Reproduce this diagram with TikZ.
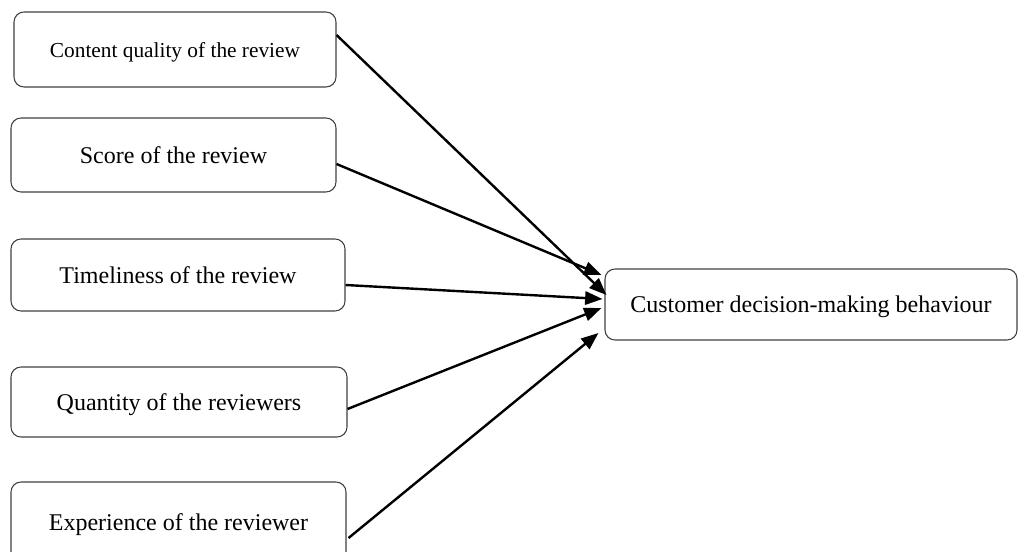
\documentclass[tikz,border=0pt]{standalone}
\usepackage{fontspec}
\setmainfont{Liberation Serif}
\usetikzlibrary{arrows.meta}
\begin{document}
\begin{tikzpicture}[x=0.75pt,y=-0.75pt,
  factor/.style={draw=black!75, line width=0.8pt, rounded corners=7.5pt, inner sep=0pt,
    font=\fontsize{18}{21}\selectfont, text depth=0pt, align=center},
  arr/.style={line width=1.8pt, -{Triangle[length=13pt,width=10pt]}}]
\clip (0,0) rectangle (1024,552);
\node[factor, minimum width=322*0.75pt, minimum height=75*0.75pt, font=\fontsize{16}{19}\selectfont] (b1) at (175,49.5) {Content quality of the review};
\node[factor, minimum width=325*0.75pt, minimum height=74*0.75pt] (b2) at (173.5,155) {Score of the review};
\node[factor, minimum width=334*0.75pt, minimum height=72*0.75pt] (b3) at (178,275) {Timeliness of the review};
\node[factor, minimum width=336*0.75pt, minimum height=70*0.75pt] (b4) at (179,402) {Quantity of the reviewers};
\node[factor, minimum width=335*0.75pt, minimum height=80*0.75pt] (b5) at (178.5,522) {Experience of the reviewer};
\node[factor, minimum width=412*0.75pt, minimum height=71*0.75pt] (t) at (811,304.5) {Customer decision-making behaviour};
\draw[arr] ([shift={(0,-14.5)}]b1.east) -- ([shift={(2,-9.5)}]t.west);
\draw[arr] ([shift={(0,9)}]b2.east) -- ([shift={(-3,-29.5)}]t.west);
\draw[arr] ([shift={(0,10)}]b3.east) -- ([shift={(-2,-5.5)}]t.west);
\draw[arr] ([shift={(0,7)}]b4.east) -- ([shift={(-3,3.5)}]t.west);
\draw[arr] ([shift={(2,16)}]b5.east) -- ([shift={(-6,28.5)}]t.west);
\end{tikzpicture}
\end{document}
